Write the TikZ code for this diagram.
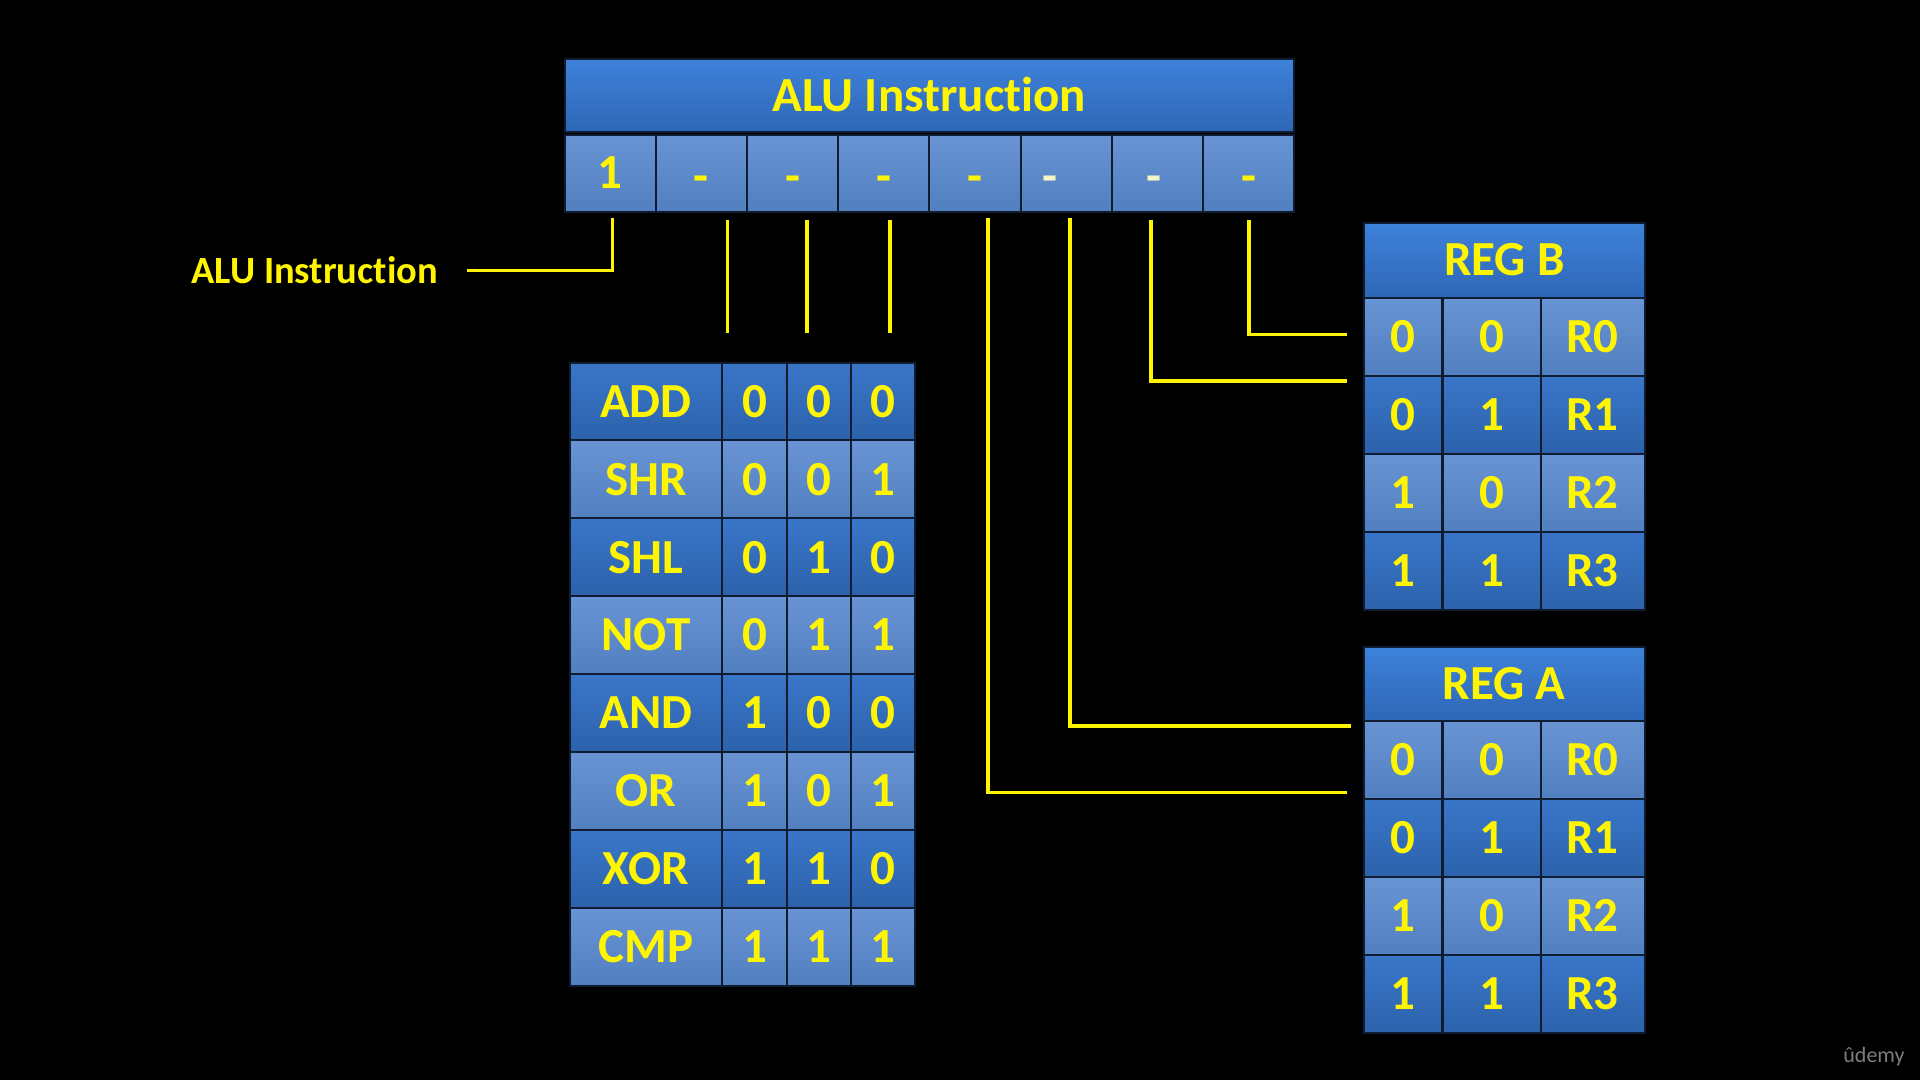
\documentclass[tikz,border=0pt]{standalone}
\usepackage{fontspec}
\setmainfont{Carlito}[Ligatures={NoCommon}]
\definecolor{ylw}{RGB}{255,245,0}
\definecolor{paleylw}{RGB}{245,245,200}
\definecolor{dkT}{RGB}{58,118,200}
\definecolor{dkB}{RGB}{44,98,172}
\definecolor{ltT}{RGB}{104,148,212}
\definecolor{ltB}{RGB}{82,127,192}
\definecolor{hdT}{RGB}{62,130,218}
\definecolor{hdB}{RGB}{46,102,182}
\definecolor{cellline}{RGB}{15,28,50}
\definecolor{wmgray}{RGB}{125,125,125}
\newcommand{\lowdash}{\raisebox{-4pt}{-}}
\begin{document}
\begin{tikzpicture}[x=1pt,y=-1pt,
  cell/.style={draw=cellline, line width=2pt, text=ylw, inner sep=0pt,
    font=\bfseries\fontsize{49}{52}\selectfont, text height=31.5pt, text depth=0pt},
  dk/.style={cell, top color=dkT, bottom color=dkB},
  lt/.style={cell, top color=ltT, bottom color=ltB},
  hd/.style={cell, top color=hdT, bottom color=hdB},
  wire/.style={draw=ylw, line width=3.6pt},
]
\fill[black] (0,0) rectangle (1920,1080);
\useasboundingbox (0,0) rectangle (1920,1080);

% ALU instruction header and bits
\node[hd, minimum width=729.8pt, minimum height=73.4pt] (hdr) at (929.4,95.5) {ALU Instruction};
\foreach \t/\c/\dx [count=\i] in {1/ylw/0,\lowdash/ylw/0,\lowdash/ylw/0,\lowdash/ylw/0,\lowdash/ylw/0,\lowdash/paleylw/-32,\lowdash/paleylw/-6,\lowdash/ylw/0}
  \node[lt, text=\c, minimum width=91.2pt, minimum height=77pt] (b\i) at ({564.5+91.2*(\i-0.5)},173.2) {\hspace*{\dx pt}\t};

% Opcode table
\foreach \s/\nm/\a/\b/\c [count=\i] in {dk/ADD/0/0/0, lt/SHR/0/0/1, dk/SHL/0/1/0, lt/NOT/0/1/1,
    dk/AND/1/0/0, lt/OR/1/0/1, dk/XOR/1/1/0, lt/CMP/1/1/1}{
  \node[\s, minimum width=153pt, minimum height=77.9pt] (op\i) at (646,{362.5+77.9*(\i-0.5)}) {\nm};
  \node[\s, minimum width=64.3pt, minimum height=77.9pt] (opa\i) at (754.5,{362.5+77.9*(\i-0.5)}) {\a};
  \node[\s, minimum width=64.3pt, minimum height=77.9pt] (opb\i) at (818.8,{362.5+77.9*(\i-0.5)}) {\b};
  \node[\s, minimum width=64.3pt, minimum height=77.9pt] (opc\i) at (883.2,{362.5+77.9*(\i-0.5)}) {\c};
}

% REG B
\node[hd, minimum width=280.5pt, minimum height=74.7pt] (rb) at (1504.3,260.2) {REG B};
\foreach \s/\a/\b/\r [count=\i] in {lt/0/0/R0, dk/0/1/R1, lt/1/0/R2, dk/1/1/R3}{
  \node[\s, minimum width=78.5pt, minimum height=78pt] (rba\i) at (1403.2,{297.6+78*(\i-0.5)}) {\a};
  \node[\s, minimum width=98pt, minimum height=78pt] (rbb\i) at (1491.5,{297.6+78*(\i-0.5)}) {\b};
  \node[\s, minimum width=104pt, minimum height=78pt] (rbr\i) at (1592.5,{297.6+78*(\i-0.5)}) {\r};
}

% REG A
\node[hd, minimum width=280.5pt, minimum height=74.7pt] (ra) at (1504.3,683.9) {REG A};
\foreach \s/\a/\b/\r [count=\i] in {lt/0/0/R0, dk/0/1/R1, lt/1/0/R2, dk/1/1/R3}{
  \node[\s, minimum width=78.5pt, minimum height=78pt] (raa\i) at (1403.2,{721.2+78*(\i-0.5)}) {\a};
  \node[\s, minimum width=98pt, minimum height=78pt] (rab\i) at (1491.5,{721.2+78*(\i-0.5)}) {\b};
  \node[\s, minimum width=104pt, minimum height=78pt] (rar\i) at (1592.5,{721.2+78*(\i-0.5)}) {\r};
}

% side label
\node[text=ylw, font=\bfseries\fontsize{38.5}{40}\selectfont, inner sep=0pt] (lbl) at (314.7,270.6) {ALU Instruction};

% wire end points
\coordinate (w1s) at (466.5,270.6);
\coordinate (w1e) at (612.3,218);
\coordinate (w2s) at (727.4,220.4);  \coordinate (w2e) at (727.4,333);
\coordinate (w3s) at (807,220.4);    \coordinate (w3e) at (807,333);
\coordinate (w4s) at (890.2,220.4);  \coordinate (w4e) at (890.2,333);
\coordinate (w5s) at (988.2,218);    \coordinate (w5e) at (1347,792.3);
\coordinate (w6s) at (1070.2,218);   \coordinate (w6e) at (1350.6,726.1);
\coordinate (w7s) at (1151,220.4);   \coordinate (w7e) at (1347,380.8);
\coordinate (w8s) at (1249,220.4);   \coordinate (w8e) at (1347,334.3);

\draw[wire] (w1s) -| (w1e);
\draw[wire] (w2s) -- (w2e);
\draw[wire] (w3s) -- (w3e);
\draw[wire] (w4s) -- (w4e);
\draw[wire] (w5s) |- (w5e);
\draw[wire] (w6s) |- (w6e);
\draw[wire] (w7s) |- (w7e);
\draw[wire] (w8s) |- (w8e);

% watermark
\node[text=wmgray, font=\fontsize{22}{24}\selectfont, inner sep=0pt] (wm) at (1874,1057) {ûdemy};
\end{tikzpicture}
\end{document}
